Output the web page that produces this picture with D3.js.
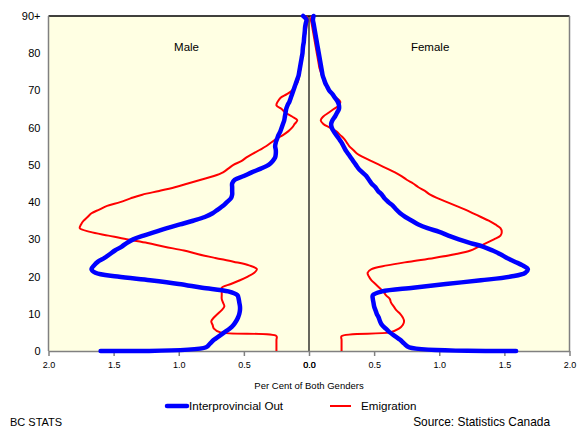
<!DOCTYPE html>
<html><head><meta charset="utf-8">
<script src="https://cdn.jsdelivr.net/npm/d3@7"></script>
<style>body{margin:0;background:#fff;}svg{display:block;font-family:Arial,"Liberation Sans",sans-serif;}</style>
</head><body><svg id="c" width="585" height="429"></svg>
<script>
const ages = d3.range(0, 91);
const interMale = [1.60,0.79,0.76,0.73,0.69,0.65,0.61,0.58,0.56,0.545,0.535,0.53,0.53,0.535,0.54,0.55,0.62,0.82,1.00,1.22,1.47,1.64,1.67,1.65,1.62,1.57,1.53,1.49,1.44,1.40,1.35,1.27,1.18,1.09,0.99,0.89,0.80,0.74,0.70,0.66,0.63,0.60,0.59,0.59,0.59,0.59,0.57,0.50,0.44,0.37,0.31,0.28,0.26,0.255,0.255,0.26,0.255,0.245,0.235,0.22,0.21,0.20,0.19,0.185,0.18,0.175,0.165,0.15,0.14,0.13,0.12,0.11,0.10,0.09,0.08,0.075,0.07,0.065,0.06,0.055,0.05,0.048,0.045,0.04,0.038,0.035,0.032,0.03,0.025,0.02,0.045];
const interFemale = [1.59,0.77,0.73,0.70,0.66,0.62,0.59,0.56,0.545,0.535,0.52,0.51,0.50,0.495,0.49,0.49,0.56,0.80,1.05,1.32,1.55,1.66,1.68,1.64,1.58,1.52,1.47,1.41,1.34,1.24,1.15,1.07,1.00,0.91,0.84,0.79,0.74,0.70,0.67,0.645,0.61,0.58,0.56,0.53,0.51,0.48,0.46,0.44,0.41,0.38,0.36,0.34,0.32,0.30,0.28,0.265,0.25,0.23,0.21,0.19,0.175,0.17,0.18,0.20,0.215,0.23,0.23,0.22,0.20,0.18,0.155,0.14,0.125,0.115,0.105,0.10,0.095,0.09,0.085,0.08,0.075,0.07,0.065,0.06,0.055,0.05,0.045,0.04,0.035,0.03,0.035];
const emigMale = [0.25,0.25,0.25,0.25,0.25,0.68,0.73,0.74,0.75,0.73,0.70,0.67,0.65,0.66,0.67,0.67,0.67,0.67,0.60,0.53,0.47,0.42,0.40,0.46,0.58,0.72,0.85,0.96,1.11,1.24,1.40,1.54,1.68,1.76,1.75,1.73,1.70,1.67,1.61,1.55,1.45,1.37,1.28,1.15,1.03,0.93,0.83,0.73,0.66,0.62,0.58,0.52,0.48,0.43,0.38,0.33,0.29,0.25,0.20,0.16,0.13,0.11,0.09,0.13,0.18,0.21,0.25,0.24,0.22,0.17,0.13,0.11,0.09,0.08,0.075,0.07,0.065,0.06,0.06,0.055,0.05,0.048,0.045,0.04,0.035,0.03,0.025,0.02,0.015,0.01,0.02];
const emigFemale = [0.25,0.25,0.25,0.25,0.25,0.62,0.69,0.72,0.73,0.72,0.70,0.67,0.65,0.63,0.62,0.59,0.57,0.54,0.51,0.48,0.46,0.45,0.48,0.60,0.77,0.96,1.12,1.24,1.30,1.36,1.42,1.47,1.48,1.47,1.43,1.38,1.32,1.26,1.20,1.13,1.06,0.99,0.93,0.89,0.84,0.80,0.75,0.71,0.66,0.60,0.54,0.48,0.42,0.37,0.34,0.31,0.29,0.27,0.24,0.21,0.16,0.11,0.09,0.11,0.15,0.19,0.23,0.24,0.21,0.18,0.16,0.14,0.12,0.11,0.10,0.09,0.08,0.075,0.07,0.065,0.06,0.055,0.05,0.045,0.04,0.035,0.03,0.025,0.02,0.015,0.02];
const yTicks = [0,10,20,30,40,50,60,70,80,90];
const yTickLabels = ["0","10","20","30","40","50","60","70","80","90+"];
const xTicks = [-2,-1.5,-1,-0.5,0,0.5,1,1.5,2];

const svg = d3.select("#c");
const x = d3.scaleLinear().domain([-2,2]).range([48.5,569.5]);
const y = d3.scaleLinear().domain([0,90]).range([351,16]);

svg.append("rect").attr("x",x(-2)).attr("y",y(90)).attr("width",x(2)-x(-2)).attr("height",y(0)-y(90)).attr("fill","#FFFFE3");
svg.append("line").attr("x1",x(-2)).attr("x2",x(2)).attr("y1",y(90)).attr("y2",y(90)).attr("stroke","#000").attr("stroke-width",1.5);
svg.append("line").attr("x1",x(-2)).attr("x2",x(-2)).attr("y1",y(90)).attr("y2",y(0)).attr("stroke","#808080").attr("stroke-width",1.5);
svg.append("line").attr("x1",x(2)).attr("x2",x(2)).attr("y1",y(90)).attr("y2",y(0)).attr("stroke","#808080").attr("stroke-width",1.5);
svg.append("line").attr("x1",x(0)).attr("x2",x(0)).attr("y1",y(90)).attr("y2",y(0)).attr("stroke","#000").attr("stroke-width",1.2);

const xa = svg.append("g").attr("transform",`translate(0,${y(0)})`)
  .call(d3.axisBottom(x).tickValues(xTicks).tickSize(5).tickSizeOuter(0).tickFormat(d=>Math.abs(d).toFixed(1)));
xa.select(".domain").attr("stroke","#808080").attr("stroke-width",1.5);
xa.selectAll(".tick line").attr("stroke","#808080").attr("stroke-width",1.5);
xa.selectAll(".tick text").attr("font-size",9).attr("fill","#000").attr("font-family","Arial,'Liberation Sans',sans-serif").attr("dy","1.05em");
svg.append("text").attr("x",x(0)+0.6).attr("y",y(0)+8).attr("dy","1.05em").attr("text-anchor","middle").attr("font-size",9).text("0.0");

const ya = svg.append("g").attr("transform",`translate(${x(-2)},0)`)
  .call(d3.axisLeft(y).tickValues(yTicks).tickSize(0).tickPadding(8).tickFormat((d,i)=>yTickLabels[i]));
ya.select(".domain").remove();
ya.selectAll(".tick text").attr("font-size",11).attr("fill","#000").attr("font-family","Arial,'Liberation Sans',sans-serif");

const lineM = d3.line().x(d=>x(-d[1])).y(d=>y(d[0])).curve(d3.curveCatmullRom.alpha(0.5));
const lineF = d3.line().x(d=>x(d[1])).y(d=>y(d[0])).curve(d3.curveCatmullRom.alpha(0.5));
const pair = arr => ages.map((a,i)=>[a,arr[i]]);

svg.append("path").attr("d",lineM(pair(emigMale))).attr("fill","none").attr("stroke","#FF0000").attr("stroke-width",2);
svg.append("path").attr("d",lineF(pair(emigFemale))).attr("fill","none").attr("stroke","#FF0000").attr("stroke-width",2);
svg.append("path").attr("d",lineM(pair(interMale))).attr("fill","none").attr("stroke","#0000FF").attr("stroke-width",4.5).attr("stroke-linecap","round").attr("stroke-linejoin","round");
svg.append("path").attr("d",lineF(pair(interFemale))).attr("fill","none").attr("stroke","#0000FF").attr("stroke-width",4.5).attr("stroke-linecap","round").attr("stroke-linejoin","round");

svg.append("text").attr("x",x(-0.94)).attr("y",51).attr("text-anchor","middle").attr("font-size",11.5).text("Male");
svg.append("text").attr("x",x(0.93)).attr("y",51).attr("text-anchor","middle").attr("font-size",11.5).text("Female");
svg.append("text").attr("x",x(0)).attr("y",389).attr("text-anchor","middle").attr("font-size",9.5).text("Per Cent of Both Genders");

svg.append("line").attr("x1",167).attr("x2",187).attr("y1",406).attr("y2",406).attr("stroke","#0000FF").attr("stroke-width",4.5).attr("stroke-linecap","round");
svg.append("text").attr("x",189).attr("y",410).attr("font-size",11.6).text("Interprovincial Out");
svg.append("line").attr("x1",330).attr("x2",351).attr("y1",406).attr("y2",406).attr("stroke","#FF0000").attr("stroke-width",2);
svg.append("text").attr("x",361).attr("y",410).attr("font-size",11.6).text("Emigration");

svg.append("text").attr("x",10).attr("y",426).attr("font-size",11).text("BC STATS");
svg.append("text").attr("x",550).attr("y",426).attr("text-anchor","end").attr("font-size",11.9).text("Source: Statistics Canada");
</script></body></html>
